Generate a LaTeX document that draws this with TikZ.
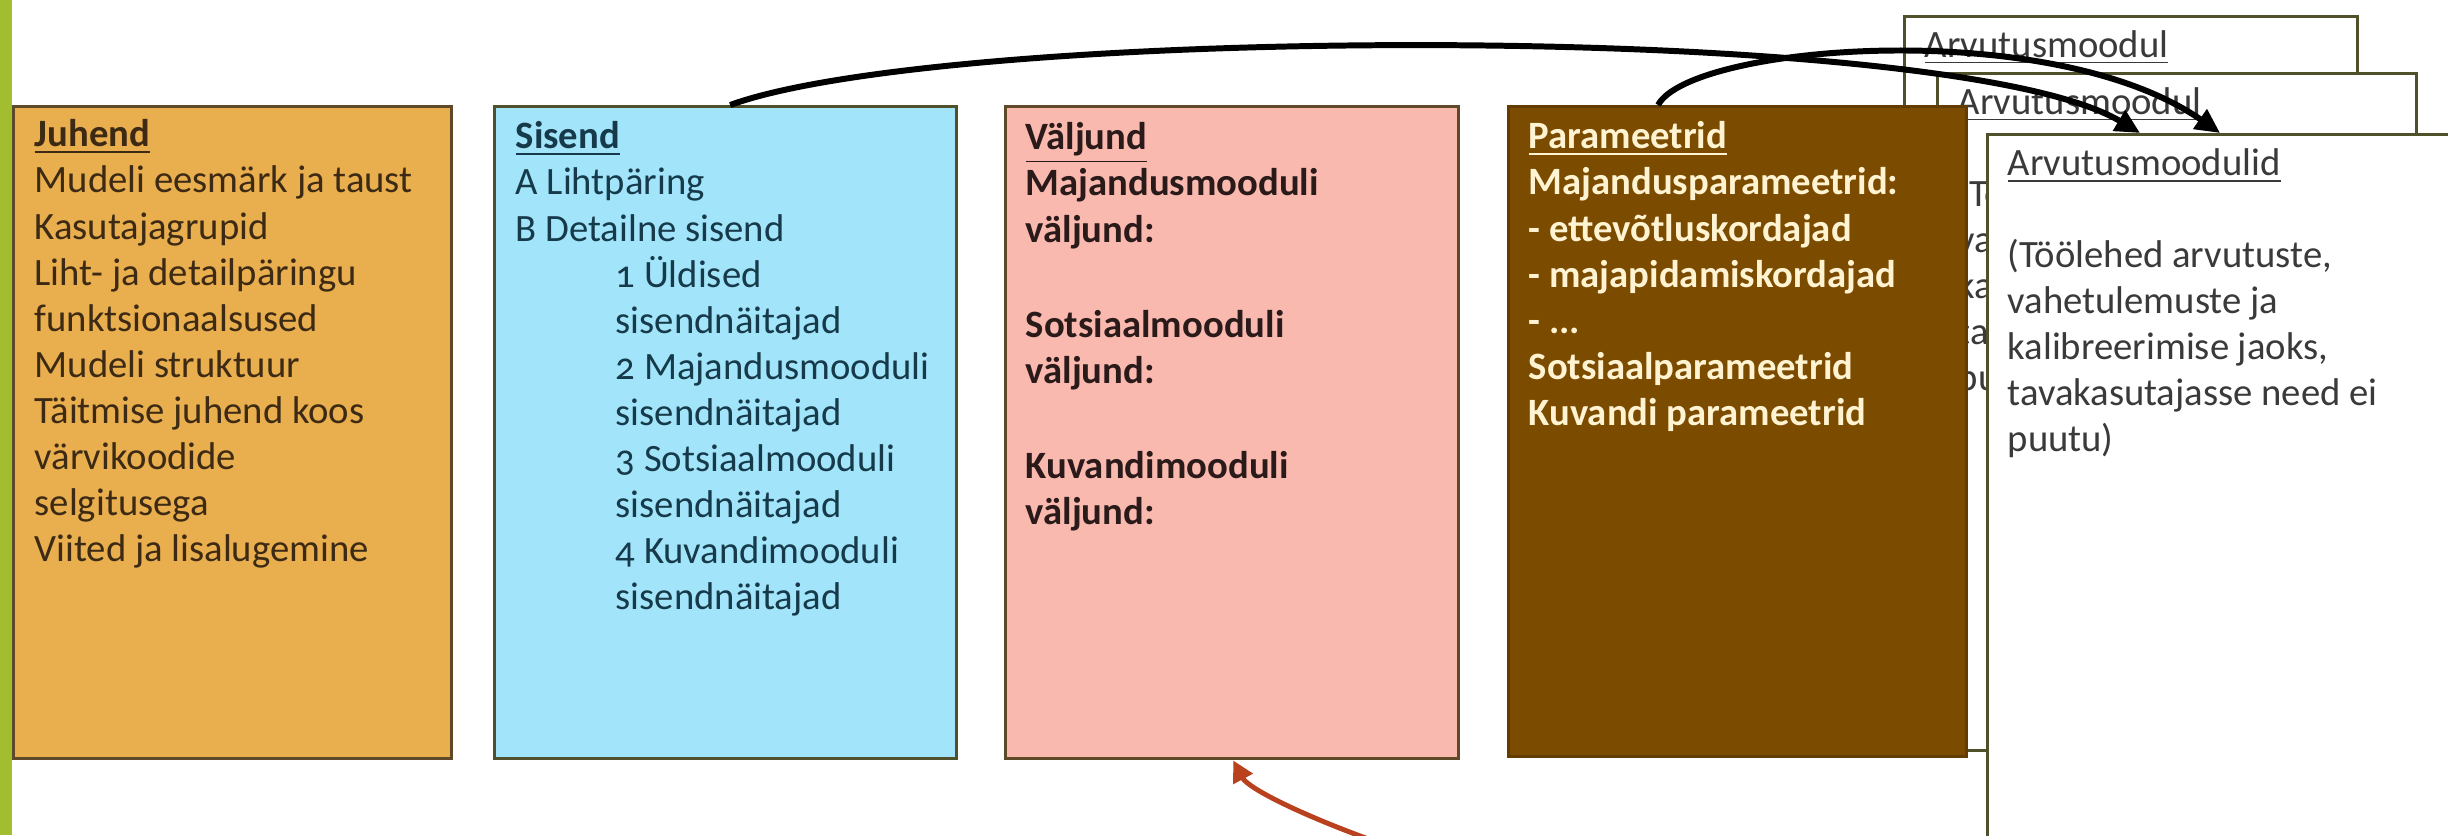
\documentclass[tikz,border=0pt]{standalone}
\usepackage{fontspec}
\setmainfont{Carlito}[Numbers=OldStyle]
\usepackage{xcolor}
\usetikzlibrary{arrows.meta}

\definecolor{barGreen}{HTML}{A3BD31}
\definecolor{juhendFill}{HTML}{E9AE4E}
\definecolor{juhendInk}{HTML}{3C2A14}
\definecolor{sisendFill}{HTML}{A2E4FA}
\definecolor{sisendInk}{HTML}{163A4A}
\definecolor{valjundFill}{HTML}{F9B9AE}
\definecolor{valjundInk}{HTML}{2A1A1A}
\definecolor{paramFill}{HTML}{7B4B00}
\definecolor{paramInk}{HTML}{FFF3D2}
\definecolor{oliveEdge}{HTML}{50502A}
\definecolor{brownEdge}{HTML}{5E4A28}
\definecolor{arvInk}{HTML}{3A3A3A}
\definecolor{arrowRed}{HTML}{B9411E}

\begin{document}
\begin{tikzpicture}[x=0.01cm, y=-0.01cm,
            every node/.style={inner sep=0pt}]
            \tikzstyle{boxStyle} = [draw=brownEdge, line width=0.85pt, anchor=north west]
            \tikzstyle{textStyle} = [anchor=north west, align=left,
                                     font=\fontsize{11pt}{13.1pt}\selectfont]
            \tikzstyle{blackArrow} = [draw=black, line width=1.7pt,
                                      -{Triangle[length=7pt,width=6.5pt]}]
            \tikzstyle{redArrow} = [draw=arrowRed, line width=1.4pt,
                                    -{Triangle[length=6pt,width=6pt]}]
            \clip (0,0) rectangle (2448,835);
            \fill[white] (0,0) rectangle (2448,835);
            \fill[barGreen] (0,0) rectangle (12,835);
            % the four main boxes
            \node[boxStyle, fill=juhendFill, minimum width=4.38cm, minimum height=6.52cm] (juhend) at (12,105) {};
            \node[boxStyle, fill=sisendFill, draw=oliveEdge, minimum width=4.62cm, minimum height=6.52cm] (sisend) at (493,105) {};
            \node[boxStyle, fill=valjundFill, minimum width=4.53cm, minimum height=6.52cm] (valjund) at (1004,105) {};
            % stacked calculation sheets, back to front
            \node[boxStyle, fill=white, draw=oliveEdge, minimum width=4.53cm, minimum height=6.80cm] (arvA) at (1903,15) {};
            \node[textStyle, text=arvInk] (arvAText) at ([xshift=0.21cm, yshift=-0.15cm]arvA.north west)
                {\underline{Arvutusmoodul}};
            \node[boxStyle, fill=white, draw=oliveEdge, minimum width=4.79cm, minimum height=6.77cm] (arvB) at (1936,72) {};
            \node[textStyle, text=arvInk] (arvBText) at ([xshift=0.21cm, yshift=-0.15cm]arvB.north west)
                {\underline{Arvutusmoodul}\\[13pt]
                 (Töölehed arvutuste,\\ vahetulemuste ja\\ kalibreerimise jaoks,\\
                 tavakasutajasse need ei\\ puutu)};
            \node[boxStyle, fill=paramFill, draw=paramFill!80!black, minimum width=4.58cm, minimum height=6.50cm] (param) at (1507,105) {};
            \node[boxStyle, fill=white, draw=oliveEdge, minimum width=4.90cm, minimum height=7.30cm] (arvC) at (1986,133) {};
            % texts
            \node[textStyle, text=juhendInk] (juhendText) at ([xshift=0.22cm, yshift=-0.14cm]juhend.north west)
                {\underline{\textbf{Juhend}}\\ Mudeli eesmärk ja taust\\ Kasutajagrupid\\
                 Liht- ja detailpäringu\\ funktsionaalsused\\ Mudeli struktuur\\
                 Täitmise juhend koos\\ värvikoodide\\ selgitusega\\ Viited ja lisalugemine};
            \node[textStyle, text=sisendInk] (sisendText) at ([xshift=0.22cm, yshift=-0.16cm]sisend.north west)
                {\underline{\textbf{Sisend}}\\ A Lihtpäring\\ B Detailne sisend\\
                 \hspace*{1cm}1 Üldised\\ \hspace*{1cm}sisendnäitajad\\
                 \hspace*{1cm}2 Majandusmooduli\\ \hspace*{1cm}sisendnäitajad\\
                 \hspace*{1cm}3 Sotsiaalmooduli\\ \hspace*{1cm}sisendnäitajad\\
                 \hspace*{1cm}4 Kuvandimooduli\\ \hspace*{1cm}sisendnäitajad};
            \node[textStyle, text=valjundInk, font=\fontsize{11pt}{13.1pt}\selectfont\bfseries] (valjundText)
                at ([xshift=0.21cm, yshift=-0.17cm]valjund.north west)
                {\underline{Väljund}\\ Majandusmooduli\\ väljund:\\[14pt]
                 Sotsiaalmooduli\\ väljund:\\[14pt] Kuvandimooduli\\ väljund:};
            \node[textStyle, text=paramInk, font=\fontsize{11pt}{13.1pt}\selectfont\bfseries] (paramText)
                at ([xshift=0.21cm, yshift=-0.16cm]param.north west)
                {\underline{Parameetrid}\\ Majandusparameetrid:\\ - ettevõtluskordajad\\
                 - majapidamiskordajad\\ - ...\\ Sotsiaalparameetrid\\ Kuvandi parameetrid};
            \node[textStyle, text=arvInk] (arvCText) at ([xshift=0.21cm, yshift=-0.15cm]arvC.north west)
                {\underline{Arvutusmoodulid}\\[13pt]
                 (Töölehed arvutuste,\\ vahetulemuste ja\\ kalibreerimise jaoks,\\
                 tavakasutajasse need ei\\ puutu)};
            % connectors
            \coordinate (redStart) at (1385,845);
            \path[blackArrow] ([xshift=2.37cm]sisend.north west)
                .. controls (950,25) and (1950,20) .. ([xshift=1.54cm]arvC.north west);
            \path[blackArrow] ([xshift=1.51cm]param.north west)
                .. controls (1690,45) and (2050,15) .. ([xshift=2.34cm]arvC.north west);
            \path[redArrow] (redStart)
                .. controls (1300,815) and (1248,788) .. ([xshift=2.29cm]valjund.south west);
\end{tikzpicture}
\end{document}
